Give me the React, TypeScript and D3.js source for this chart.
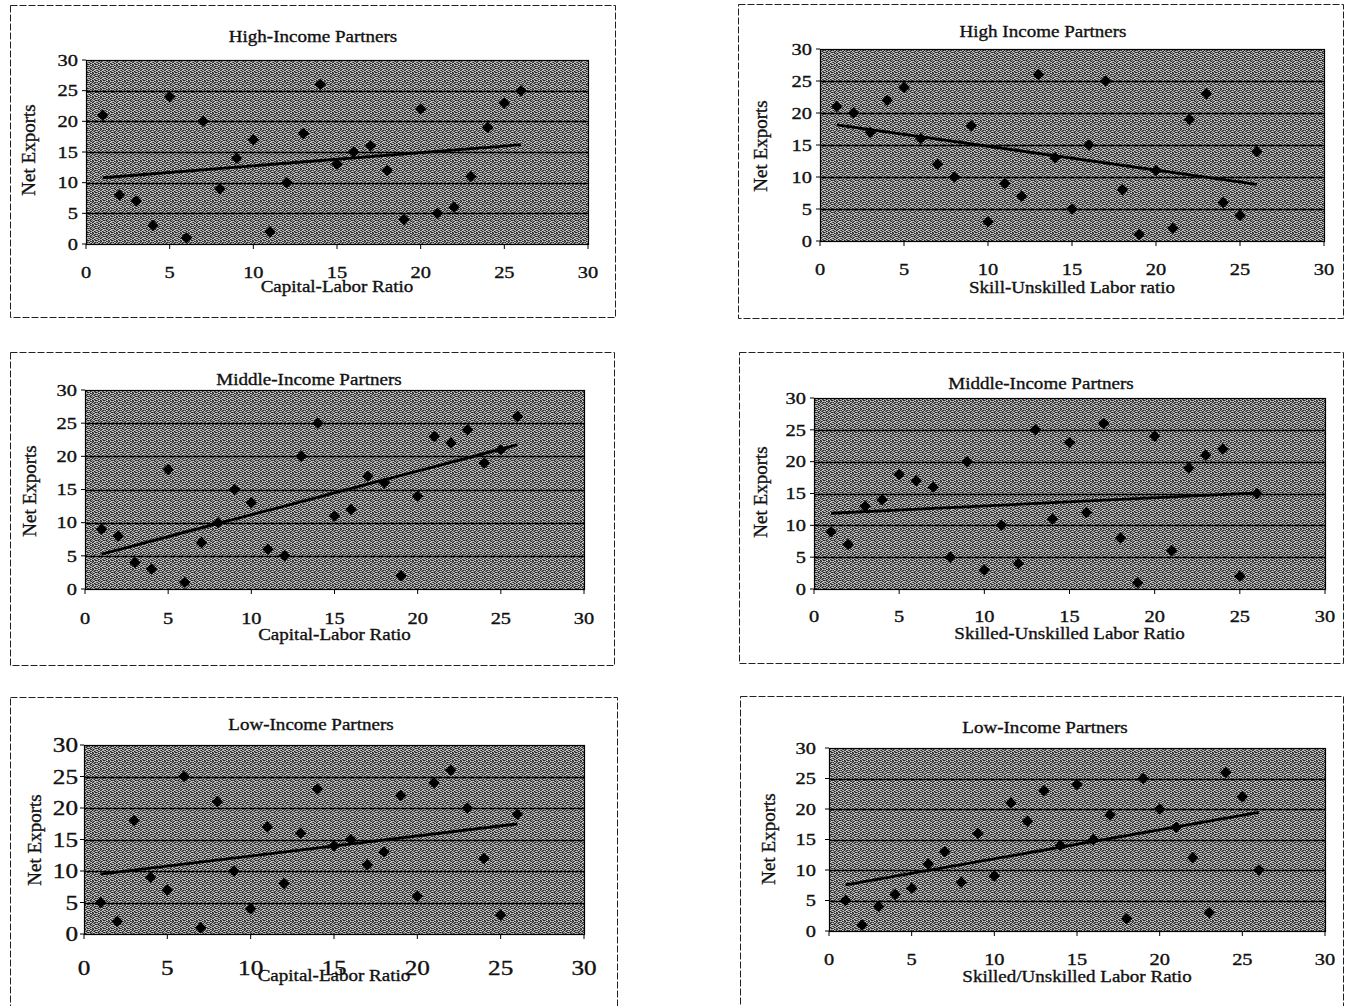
import React, { useRef, useEffect } from 'react';
import * as d3 from 'd3';

// factor ratio rank (x) shared by every panel
const ratio = [1, 2, 3, 4, 5, 6, 7, 8, 9, 10, 11, 12, 13, 14, 15, 16, 17, 18, 19, 20, 21, 22, 23, 24, 25, 26];

// net exports rank per panel
const highCapital = [21, 8, 7, 3, 24, 1, 20, 9, 14, 17, 2, 10, 18, 26, 13, 15, 16, 12, 4, 22, 5, 6, 11, 19, 23, 25];
const highSkill = [21, 20, 17, 22, 24, 16, 12, 10, 18, 3, 9, 7, 26, 13, 5, 15, 25, 8, 1, 11, 2, 19, 23, 6, 4, 14];
const middleCapital = [9, 8, 4, 3, 18, 1, 7, 10, 15, 13, 6, 5, 20, 25, 11, 12, 17, 16, 2, 14, 23, 22, 24, 19, 21, 26];
const middleSkill = [9, 7, 13, 14, 18, 17, 16, 5, 20, 3, 10, 4, 25, 11, 23, 12, 26, 8, 1, 24, 6, 19, 21, 22, 2, 15];
const lowCapital = [5, 2, 18, 9, 7, 25, 1, 21, 10, 4, 17, 8, 16, 23, 14, 15, 11, 13, 22, 6, 24, 26, 20, 12, 3, 19];
const lowSkill = [5, 1, 4, 6, 7, 11, 13, 8, 16, 9, 21, 18, 23, 14, 24, 15, 19, 2, 25, 20, 17, 12, 3, 26, 22, 10];

const axisTicks = [0, 5, 10, 15, 20, 25, 30];
const titles = ['High-Income Partners', 'High Income Partners', 'Middle-Income Partners', 'Middle-Income Partners', 'Low-Income Partners', 'Low-Income Partners'];
const xTitles = ['Capital-Labor Ratio', 'Skill-Unskilled Labor ratio', 'Capital-Labor Ratio', 'Skilled-Unskilled Labor Ratio', 'Capital-Labor Ratio', 'Skilled/Unskilled Labor Ratio'];
const yTitle = 'Net Exports';

// layout of each panel: frame box, plot box, text anchors
const panels = [
    { values: highCapital, frame: [10, 5, 615, 317], plot: [86, 588, 60, 244], titleX: 313, titleY: 42, tickY: 278, xTitleY: 292, yTitleX: 35, yTitleY: 150, yTickX: 78, tick: 17 },
    { values: highSkill, frame: [738, 4, 1343, 318], plot: [820, 1324, 49, 241], titleX: 1043, titleY: 37, tickY: 275, xTitleY: 293, yTitleX: 767, yTitleY: 146, yTickX: 812, tick: 17 },
    { values: middleCapital, frame: [10, 352, 614, 665], plot: [85, 584, 390, 589], titleX: 309, titleY: 385, tickY: 624, xTitleY: 640, yTitleX: 36, yTitleY: 491, yTickX: 77, tick: 17 },
    { values: middleSkill, frame: [739, 352, 1343, 663], plot: [814, 1325, 398, 589], titleX: 1041, titleY: 389, tickY: 622, xTitleY: 639, yTitleX: 767, yTitleY: 492, yTickX: 806, tick: 17 },
    { values: lowCapital, frame: [10, 697, 617, 1012], plot: [84, 584, 745, 934], titleX: 311, titleY: 730, tickY: 975, xTitleY: 981, yTitleX: 41, yTitleY: 840, yTickX: 78, tick: 21 },
    { values: lowSkill, frame: [740, 696, 1343, 1012], plot: [829, 1325, 748, 931], titleX: 1045, titleY: 733, tickY: 965, xTitleY: 982, yTitleX: 775, yTitleY: 839, yTickX: 816, tick: 17 },
];

// halftone tile for the scanned grey plot area
const ditherRows = ['dmlwdmld', 'lwdmmdwl', 'mdwldlmd', 'wlmdwmdl', 'dmdlmwld', 'lwmdldmw', 'mdlwdmwl', 'wldmlwdm'];
const ditherTones = { d: '#262626', m: '#636363', l: '#a4a4a4', w: '#cdcdcd' };

const FONT = '"Times New Roman", "Liberation Serif", serif';

const App = () => {
    const svgRef = useRef(null);

    useEffect(() => {
        const svg = d3.select(svgRef.current);
        svg.selectAll('*').remove();

        const defs = svg.append('defs');
        const pat = defs.append('pattern')
            .attr('id', 'dither')
            .attr('width', 8)
            .attr('height', 8)
            .attr('patternUnits', 'userSpaceOnUse');
        ditherRows.forEach((row, ry) => {
            row.split('').forEach((c, rx) => {
                pat.append('rect')
                    .attr('x', rx).attr('y', ry)
                    .attr('width', 1).attr('height', 1)
                    .attr('fill', ditherTones[c]);
            });
        });

        const addText = (g, txt, x, y, size, anchor, sx = 1.12) => g.append('text')
            .attr('transform', `translate(${x},${y}) scale(${sx},1)`)
            .attr('text-anchor', anchor)
            .attr('font-family', FONT)
            .attr('font-size', size)
            .attr('fill', '#111')
            .attr('stroke', '#111')
            .attr('stroke-width', 0.35)
            .text(txt);

        panels.forEach((p, i) => {
            const g = svg.append('g');
            const [fx0, fy0, fx1, fy1] = p.frame;
            const [px0, px1, py0, py1] = p.plot;

            g.append('rect')
                .attr('x', fx0 + 0.5).attr('y', fy0 + 0.5)
                .attr('width', fx1 - fx0).attr('height', fy1 - fy0)
                .attr('fill', 'white')
                .attr('stroke', '#222')
                .attr('stroke-dasharray', '7 2')
                .attr('stroke-width', 1);

            const x = d3.scaleLinear().domain([0, 30]).range([px0, px1]);
            const y = d3.scaleLinear().domain([0, 30]).range([py1, py0]);

            g.append('rect')
                .attr('x', px0).attr('y', py0)
                .attr('width', px1 - px0).attr('height', py1 - py0)
                .attr('fill', 'url(#dither)');

            // gridlines
            g.selectAll('.grid')
                .data(axisTicks.slice(1, -1))
                .enter()
                .append('line')
                .attr('x1', px0).attr('x2', px1)
                .attr('y1', d => Math.round(y(d)) + 0.5)
                .attr('y2', d => Math.round(y(d)) + 0.5)
                .attr('stroke', '#000')
                .attr('stroke-width', 1.4);

            g.append('rect')
                .attr('x', px0 + 0.5).attr('y', py0 + 0.5)
                .attr('width', px1 - px0).attr('height', py1 - py0)
                .attr('fill', 'none')
                .attr('stroke', '#000')
                .attr('stroke-width', 1.2);

            // tick marks
            axisTicks.forEach(t => {
                g.append('line')
                    .attr('x1', px0 - 4).attr('x2', px0)
                    .attr('y1', y(t)).attr('y2', y(t))
                    .attr('stroke', '#000');
                g.append('line')
                    .attr('x1', x(t)).attr('x2', x(t))
                    .attr('y1', py1).attr('y2', py1 + 5)
                    .attr('stroke', '#000');
                addText(g, t, x(t), p.tickY, p.tick, 'middle', 1.2);
                addText(g, t, p.yTickX, y(t) + p.tick * 0.34, p.tick, 'end', 1.2);
            });

            // least-squares trend line
            const mx = d3.mean(ratio);
            const my = d3.mean(p.values);
            const sxy = d3.sum(ratio, (r, k) => (r - mx) * (p.values[k] - my));
            const sxx = d3.sum(ratio, r => (r - mx) ** 2);
            const slope = sxy / sxx;
            const ends = d3.extent(ratio);
            const line = d3.line().x(d => x(d)).y(d => y(my + slope * (d - mx)));
            g.append('path')
                .attr('d', line(ends))
                .attr('fill', 'none')
                .attr('stroke', '#000')
                .attr('stroke-width', 2.8);

            const diamond = d3.symbol().type(d3.symbolDiamond2).size(84);
            g.selectAll('.pt')
                .data(p.values)
                .enter()
                .append('path')
                .attr('d', diamond)
                .attr('transform', (d, k) => `translate(${x(ratio[k])},${y(d)})`)
                .attr('fill', '#000');

            addText(g, titles[i], p.titleX, p.titleY, 17, 'middle');
            addText(g, xTitles[i], (px0 + px1) / 2, p.xTitleY, 17, 'middle');
            g.append('text')
                .attr('transform', `translate(${p.yTitleX},${p.yTitleY}) rotate(-90)`)
                .attr('text-anchor', 'middle')
                .attr('font-family', FONT)
                .attr('font-size', 19)
                .attr('fill', '#111')
                .attr('stroke', '#111')
                .attr('stroke-width', 0.35)
                .text(yTitle);
        });
    }, []);

    return (
        <svg
            ref={svgRef}
            width={1353}
            height={1006}
            style={{ position: 'absolute', left: 0, top: 0, display: 'block', background: 'white' }}
        />
    );
};

export default App;
